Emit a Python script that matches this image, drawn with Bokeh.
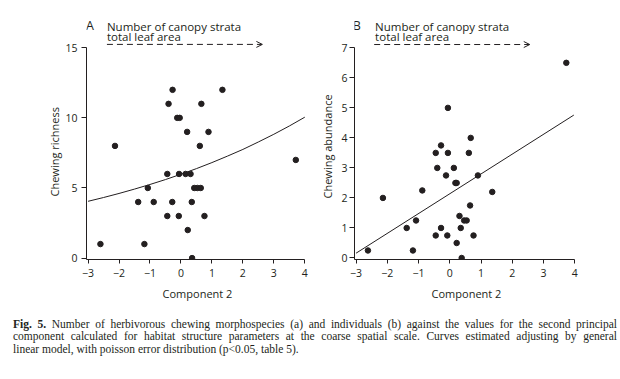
from bokeh.plotting import figure
from bokeh.models import Range1d, FixedTicker, Label, Arrow, OpenHead, Div, Title
from bokeh.layouts import row, column
from bokeh.embed import file_html
from bokeh.resources import INLINE

# ---------------- data ----------------
# Panel A: chewing richness vs component 2
a_x = [-2.60, -2.13, -1.38, -1.18, -1.07, -0.88, -0.44, -0.44, -0.28, -0.07,
       -0.06, 0.15, 0.22, 0.31, 0.35, 0.36, 0.43, 0.53, 0.64, 0.76,
       0.61, 3.71, -0.27, -0.40, -0.12, -0.04, 0.20, 0.66, 0.89, 1.34]
a_y = [1, 8, 4, 1, 5, 4, 6, 3, 4, 3,
       6, 6, 2, 6, 4, 0, 5, 5, 5, 3,
       8, 7, 12, 11, 10, 10, 9, 11, 9, 12]
# fitted curve A
curve_a_x = [-3, -2.5, -2, -1.5, -1, -0.5, 0, 0.5, 1, 1.5, 2, 2.5, 3, 3.5, 4]
curve_a_y = [4.05, 4.32, 4.61, 4.92, 5.25, 5.6, 5.98, 6.38, 6.81, 7.27,
             7.75, 8.28, 8.83, 9.42, 10.05]

# Panel B: chewing abundance vs component 2
b_x = [-2.62, -2.14, -1.38, -1.08, -1.18, -0.88, -0.45, -0.40, -0.28, -0.45,
       -0.28, -0.12, -0.06, -0.08, 0.13, 0.18, 0.22, 0.22, 0.31, 0.35,
       0.38, 0.46, 0.54, 0.61, 0.65, 0.76, 0.90, 1.36, -0.06, 0.67, 3.73]
b_y = [0.25, 2.0, 1.0, 1.25, 0.25, 2.25, 3.5, 3.0, 3.75, 0.75,
       1.0, 2.75, 3.5, 0.75, 3.0, 2.5, 2.5, 0.5, 1.4, 1.0,
       0.0, 1.25, 1.25, 3.5, 1.75, 0.75, 2.75, 2.2, 5.0, 4.0, 6.5]
curve_b_x = [-3, 3.97]
curve_b_y = [0.16, 4.76]

x_ticks = [-3, -2, -1, 0, 1, 2, 3, 4]
a_ticks = [0, 5, 10, 15]
b_ticks = [0, 1, 2, 3, 4, 5, 6, 7]

SANS = "Open Sans"
INK = "#231f20"
X0 = -3.05


def make(label, xs, ys, cx, cy, yr, yticks, ybounds, ytitle, title_off, title_standoff,
         width, mb_left, mb_right, standoff_y, arrow_y, t1_y, t2_y, lab_y,
         arrow_x0, arrow_x1, text_x, lab_x):
    p = figure(width=width, height=306, x_range=Range1d(X0, 4.12), y_range=Range1d(*yr),
               min_border_left=mb_left, min_border_right=mb_right, min_border_top=8,
               min_border_bottom=47, output_backend="svg", toolbar_location=None)
    p.grid.visible = False
    p.outline_line_color = None
    p.xaxis.ticker = FixedTicker(ticks=x_ticks)
    p.yaxis.ticker = FixedTicker(ticks=yticks)
    p.xaxis.bounds = (X0, 4)
    p.yaxis.bounds = ybounds
    for ax in (p.xaxis, p.yaxis):
        ax.axis_line_color = INK
        ax.major_tick_line_color = INK
        ax.minor_tick_line_color = None
        ax.major_tick_in = 0
        ax.major_label_text_font = SANS
        ax.major_label_text_font_size = "10.5px"
        ax.major_label_text_color = INK
    p.xaxis.major_tick_out = 4
    p.yaxis.major_tick_out = 5
    p.xaxis.major_label_standoff = 5
    p.yaxis.major_label_standoff = standoff_y
    p.xaxis.axis_label = "Component 2"
    p.xaxis.axis_label_text_font = SANS
    p.xaxis.axis_label_text_font_size = "11px"
    p.xaxis.axis_label_text_font_style = "normal"
    p.xaxis.axis_label_text_color = INK
    p.xaxis.axis_label_standoff = 6

    p.line(cx, cy, line_color=INK, line_width=1)
    p.scatter(xs, ys, size=5.5, color=INK)

    p.add_layout(Title(text=ytitle, align="left", offset=title_off, standoff=title_standoff,
                       text_font=SANS, text_font_size="11px", text_font_style="normal",
                       text_color=INK), "left")
    p.add_layout(Label(x=lab_x, y=lab_y, text=label, text_align="center",
                       text_baseline="alphabetic", text_font=SANS,
                       text_font_size="12.5px", text_color=INK))
    p.add_layout(Label(x=text_x, y=t1_y, text="Number of canopy strata", text_align="left",
                       text_baseline="alphabetic", text_font=SANS,
                       text_font_size="11.5px", text_color=INK))
    p.add_layout(Label(x=text_x, y=t2_y, text="total leaf area", text_align="left",
                       text_baseline="alphabetic", text_font=SANS,
                       text_font_size="11.5px", text_color=INK))
    p.add_layout(Arrow(end=OpenHead(size=6, line_width=1, line_color=INK),
                       x_start=arrow_x0, y_start=arrow_y, x_end=arrow_x1, y_end=arrow_y,
                       line_dash="6 4", line_width=1, line_color=INK))
    return p


pA = make("A", a_x, a_y, curve_a_x, curve_a_y, (-0.1, 17.8), a_ticks, (-0.1, 15),
          "Chewing richness", 63, 2, 312, 86, 4, 4,
          15.24, 16.53, 15.81, 16.6, -2.39, 2.63, -2.39, -2.94)
pB = make("B", b_x, b_y, curve_b_x, curve_b_y, (-0.05, 8.31), b_ticks, (-0.05, 7),
          "Chewing abundance", 61, 8, 300, 42, 34, 2,
          7.11, 7.71, 7.38, 7.75, -2.42, 2.56, -2.39, -2.98)

caption = Div(width=612, text=(
    '<div style="width:604px;margin-left:8px;font-family:\'Liberation Serif\',serif;font-size:11.5px;line-height:12.3px;color:#231f20;margin-top:7px;">'
    '<div style="text-align:justify;text-align-last:justify;"><b>Fig. 5.</b> Number of herbivorous chewing morphospecies (a) and individuals (b) against the values for the second principal</div>'
    '<div style="text-align:justify;text-align-last:justify;">component calculated for habitat structure parameters at the coarse spatial scale. Curves estimated adjusting by general</div>'
    '<div style="text-align:left;">linear model, with poisson error distribution (p&lt;0.05, table 5).</div>'
    '</div>'))

layout = column(row(pA, pB), caption)
open("out.html", "w").write(file_html(layout, INLINE))
